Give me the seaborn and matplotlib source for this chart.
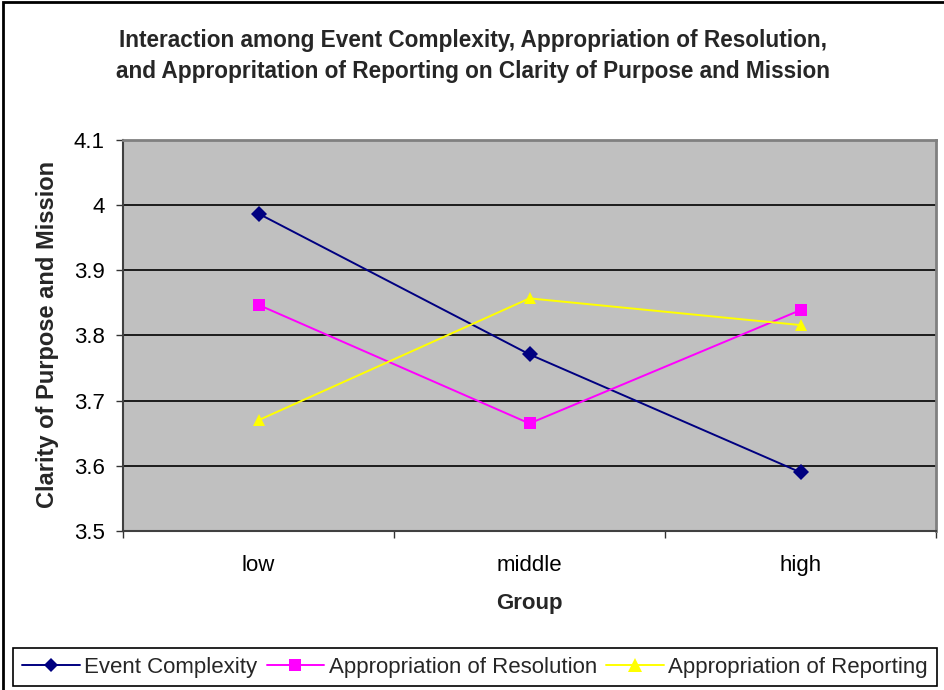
import matplotlib
matplotlib.use("Agg")
import matplotlib.pyplot as plt
import seaborn as sns
import pandas as pd
from matplotlib.patches import Rectangle
from matplotlib.ticker import FixedLocator

groups = ["low", "middle", "high"]
event_complexity = [3.987, 3.771, 3.590]
appropriation_resolution = [3.847, 3.665, 3.839]
appropriation_reporting = [3.670, 3.857, 3.816]
series_names = ["Event Complexity", "Appropriation of Resolution", "Appropriation of Reporting"]
y_ticks = [3.5, 3.6, 3.7, 3.8, 3.9, 4.0, 4.1]
y_tick_labels = ["3.5", "3.6", "3.7", "3.8", "3.9", "4", "4.1"]

rows = []
for name, vals in zip(series_names, [event_complexity, appropriation_resolution, appropriation_reporting]):
    for g, v in zip(groups, vals):
        rows.append({"Group": g, "value": v, "series": name})
df = pd.DataFrame(rows)

sns.set_theme(style="white")
plt.rcParams["font.family"] = ["Liberation Sans", "DejaVu Sans"]

W, H = 944, 690
fig = plt.figure(figsize=(W / 100, H / 100), dpi=100)
ax = fig.add_axes([123 / W, 1 - 531 / H, (936 - 123) / W, (531 - 140) / H])
ax.set_facecolor("#C0C0C0")

palette = {series_names[0]: "#000080", series_names[1]: "#FF00FF", series_names[2]: "#FFFF00"}
markers = {series_names[0]: "D", series_names[1]: "s", series_names[2]: "^"}
sizes_m = {series_names[0]: 7.5, series_names[1]: 8, series_names[2]: 10}

sns.lineplot(data=df, x="Group", y="value", hue="series", style="series",
             palette=palette, markers=markers, dashes=False, sort=False,
             linewidth=1.4, markersize=8, markeredgewidth=0, ax=ax, legend=True)
for line in ax.get_lines():
    lbl = line.get_label()
    if lbl in sizes_m:
        line.set_markersize(sizes_m[lbl])

ax.set_xlim(-0.5, 2.5)
ax.set_ylim(3.5, 4.1)
ax.set_yticks(y_ticks)
ax.set_yticklabels(y_tick_labels)
ax.yaxis.grid(True, color="black", linewidth=1.2)
ax.xaxis.grid(False)
ax.set_axisbelow(True)

ax.set_xticks(range(len(groups)))
ax.set_xticklabels(groups)
ax.xaxis.set_minor_locator(FixedLocator([-0.5, 0.5, 1.5, 2.5]))
ax.tick_params(axis="x", which="major", length=0, pad=17, labelsize=16, colors="black")
ax.tick_params(axis="x", which="minor", length=5, width=1, direction="out", bottom=True, color="#333333")
ax.tick_params(axis="y", which="major", length=5, width=1, direction="out", left=True, pad=8,
               labelsize=16, color="#333333", labelcolor="black")

for side in ["top", "right"]:
    ax.spines[side].set_color("#808080")
    ax.spines[side].set_linewidth(2)
for side in ["left", "bottom"]:
    ax.spines[side].set_color("#404040")
    ax.spines[side].set_linewidth(1.5)

ax.set_xlabel("")
ax.set_ylabel("")

fig.text(48 / W, 1 - 334 / H, "Clarity of Purpose and Mission", rotation=90,
         ha="center", va="center", fontsize=17, fontweight="bold")
fig.text(529 / W, 1 - 604 / H, "Group", ha="center", va="center",
         fontsize=16, fontweight="bold")
fig.text(473 / W, 1 - 56 / H,
         "Interaction among Event Complexity, Appropriation of Resolution,\n"
         "and Appropritation of Reporting on Clarity of Purpose and Mission",
         ha="center", va="center", fontsize=16.3, fontweight="bold", linespacing=1.45)

handles, labels = ax.get_legend_handles_labels()
ax.get_legend().remove()
leg = fig.legend(handles, labels, loc="center", ncol=3,
                 bbox_to_anchor=(475 / W, 1 - 667 / H),
                 frameon=True, fancybox=False, framealpha=1, edgecolor="black",
                 fontsize=16, handlelength=2.6, handletextpad=0.2, columnspacing=0.4,
                 borderpad=0.4, borderaxespad=0)
leg.get_frame().set_linewidth(1.2)

fig.patches.append(Rectangle((3 / W, -0.05), 1.1, 1 - 2 / H + 0.05, transform=fig.transFigure,
                             fill=False, edgecolor="black", linewidth=2, figure=fig))

fig.savefig("out.png", dpi=100)
